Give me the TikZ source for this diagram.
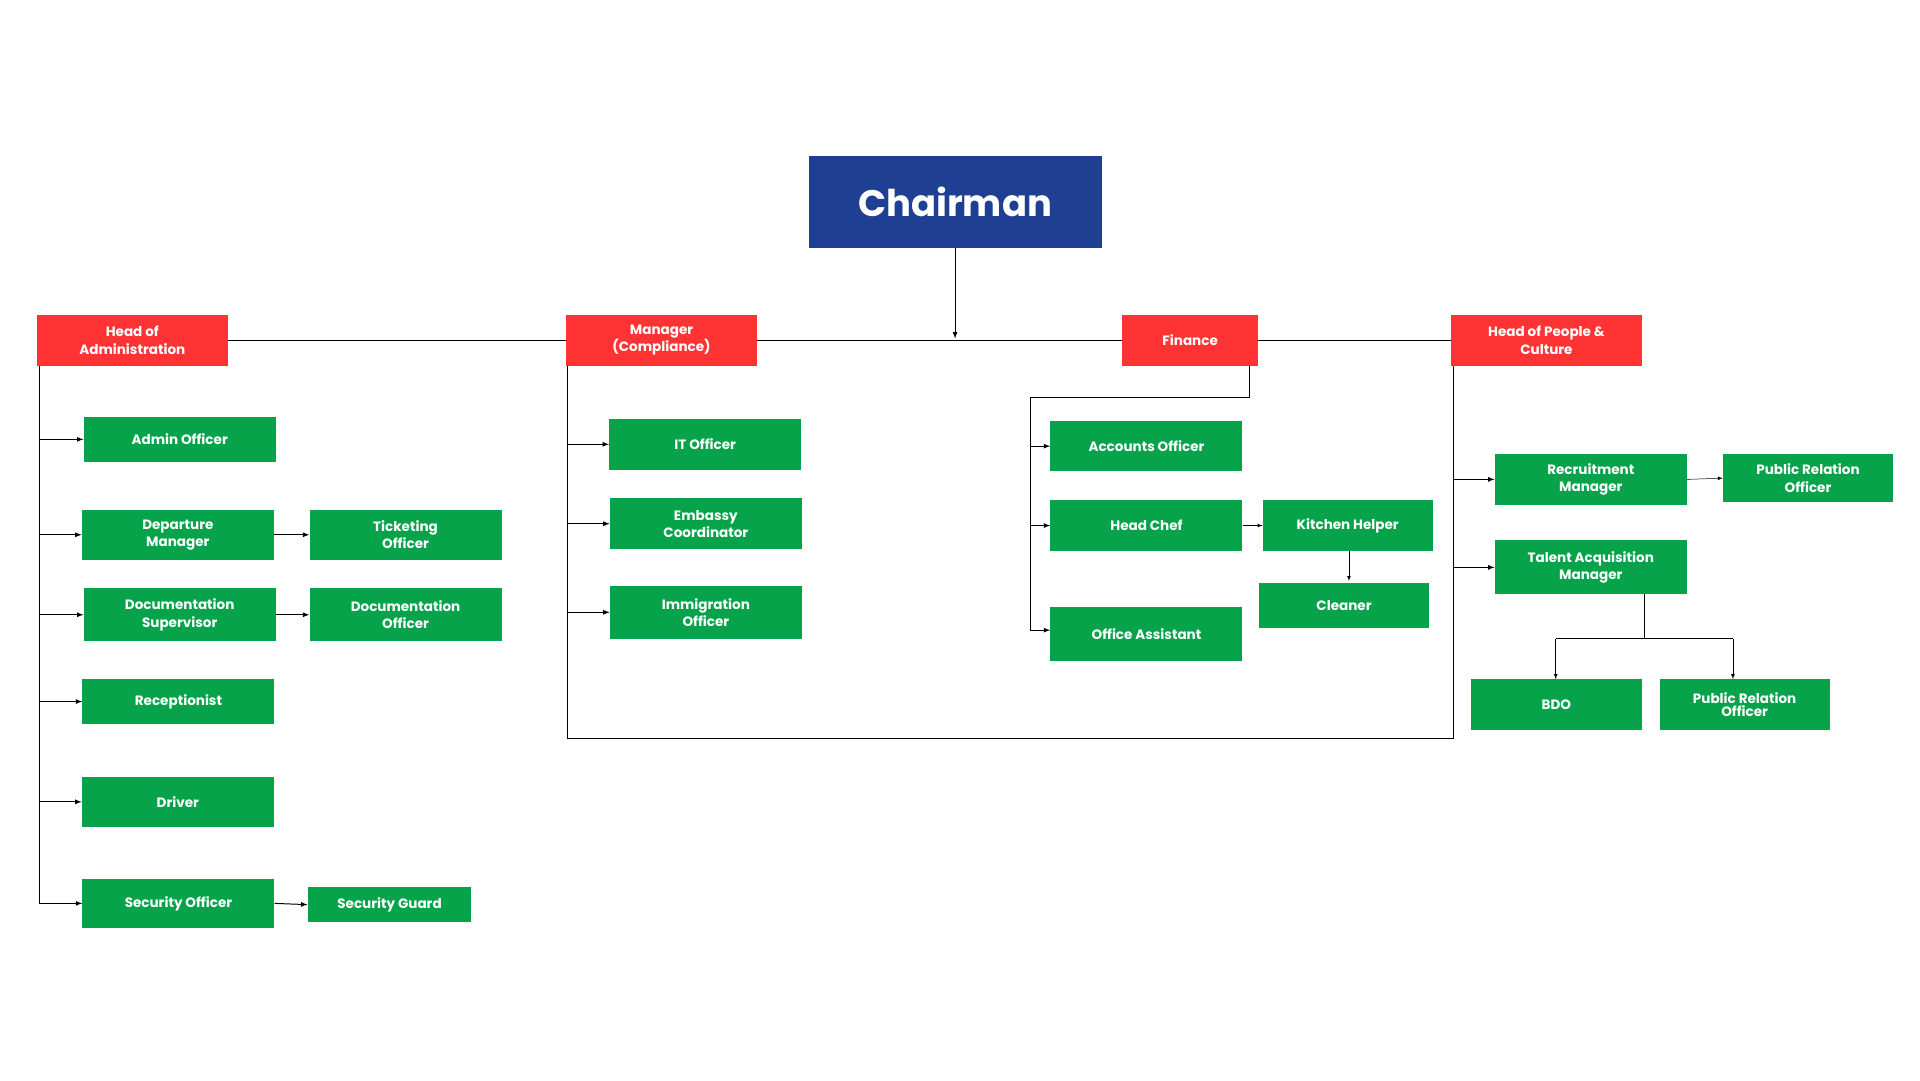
\documentclass[tikz,border=0pt]{standalone}
\usepackage{fontspec}
\setmainfont{Poppins}
\usetikzlibrary{arrows, positioning}
\definecolor{chairblue}{HTML}{1F3F93}
\definecolor{headred}{HTML}{FF3334}
\definecolor{staffgreen}{HTML}{06A34A}
\tikzstyle{chair} = [rectangle, minimum width=238pt, minimum height=75pt, text centered, fill=chairblue, text=white, font=\fontsize{30}{32}\selectfont\bfseries]
\tikzstyle{head} = [rectangle, minimum width=155pt, minimum height=41pt, text centered, fill=headred, text=white, font=\fontsize{11}{14}\selectfont\bfseries]
\tikzstyle{staff} = [rectangle, minimum width=156pt, minimum height=41pt, text centered, fill=staffgreen, text=white, font=\fontsize{11}{14}\selectfont\bfseries]
\tikzstyle{arrow} = [thick,->,>=latex]
\tikzstyle{link} = [thick]
\begin{document}
\begin{tikzpicture}[x=1pt, y=-1pt, every node/.style={align=center}]
\useasboundingbox (0,0) rectangle (1560,878);
% top
\node [chair] (chair) at (776,164) {Chairman};
\node [head] (admin) at (107.5,276.5) {Head of\\Administration};
\node [head] (manager) at (537.5,276.5) {Manager\\(Compliance)};
\node [head, minimum width=110pt] (finance) at (967,276.5) {Finance};
\node [head] (people) at (1256.5,276.5) {Head of People \&\\Culture};
\draw [link] (admin.east) -- (manager.west);
\draw [link] (manager.east) -- (finance.west);
\draw [link] (finance.east) -- (people.west);
\draw [arrow] (chair.south) -- (776,275);

% administration
\node [staff, minimum height=36pt] (adminofficer) at (146,357) {Admin Officer};
\node [staff] (departure) at (144.5,434.5) {Departure\\Manager};
\node [staff] (ticketing) at (329.5,434.5) {Ticketing\\Officer};
\node [staff, minimum height=43pt] (docsuper) at (146,499.5) {Documentation\\Supervisor};
\node [staff, minimum height=43pt] (docofficer) at (329.5,499.5) {Documentation\\Officer};
\node [staff, minimum height=36pt] (reception) at (145,570) {Receptionist};
\node [staff] (driver) at (144.5,651.5) {Driver};
\node [staff, minimum height=40pt] (secofficer) at (145,734) {Security Officer};
\node [staff, minimum width=133pt, minimum height=28pt] (secguard) at (316.5,735) {Security Guard};
\coordinate (adminbot) at (32,734);
\draw [link] (32,297) -- (adminbot);
\foreach \n in {adminofficer, departure, docsuper, reception, driver, secofficer}
  \draw [arrow] (adminbot |- \n.west) -- (\n.west);
\draw [arrow] (departure.east) -- (ticketing.west);
\draw [arrow] (docsuper.east) -- (docofficer.west);
\draw [arrow] (secofficer.east) -- (secguard.west);

% compliance
\node [staff] (itofficer) at (573,361) {IT Officer};
\node [staff] (embassy) at (573.5,425.5) {Embassy\\Coordinator};
\node [staff, minimum height=43pt] (immigration) at (573.5,497.5) {Immigration\\Officer};
\coordinate (boxbl) at (461,600);
\coordinate (boxbr) at (1181,600);
\draw [link] (461,297) -- (boxbl) -- (boxbr) -- (1181,297);
\foreach \n in {itofficer, embassy, immigration}
  \draw [arrow] (boxbl |- \n.west) -- (\n.west);

% finance
\node [staff] (accounts) at (931.5,362.5) {Accounts Officer};
\node [staff] (headchef) at (931.5,427) {Head Chef};
\node [staff, minimum height=44pt] (officeasst) at (931.5,515) {Office Assistant};
\node [staff, minimum width=138pt] (kitchen) at (1095,427) {Kitchen Helper};
\node [staff, minimum width=138pt, minimum height=36pt] (cleaner) at (1092,492) {Cleaner};
\coordinate (finturn) at (837,323);
\draw [link] (1015,297) -- (1015,323) -- (finturn) -- (837,512);
\foreach \n in {accounts, headchef}
  \draw [arrow] (finturn |- \n.west) -- (\n.west);
\draw [arrow] (837,512) -- (officeasst.west |- 0,512);
\draw [arrow, thin] (headchef.east) -- (kitchen.west);
\draw [arrow, thin] (kitchen.south -| 1096,0) -- (1096,472);

% people & culture
\node [staff] (recruit) at (1292.5,389.5) {Recruitment\\Manager};
\node [staff, minimum width=138pt, minimum height=39pt] (prorecruit) at (1469,388.5) {Public Relation\\Officer};
\node [staff, minimum height=44pt] (talent) at (1292.5,461) {Talent Acquisition\\Manager};
\node [staff, minimum width=139pt] (bdo) at (1264.5,572.5) {BDO};
\node [staff, minimum width=138pt, font=\fontsize{11}{11}\selectfont\bfseries] (protalent) at (1417.5,572.5) {Public Relation\\Officer};
\foreach \n in {recruit, talent}
  \draw [arrow] (boxbr |- \n.west) -- (\n.west);
\draw [arrow, thin] (recruit.east) -- (prorecruit.west);
\coordinate (split) at (1336,519);
\draw [link] (1336,483) -- (split);
\draw [link] (1264,519) -- (1408,519);
\draw [arrow, thin] (1264,519) -- (bdo.north -| 1264,0);
\draw [arrow, thin] (1408,519) -- (protalent.north -| 1408,0);
\end{tikzpicture}
\end{document}
